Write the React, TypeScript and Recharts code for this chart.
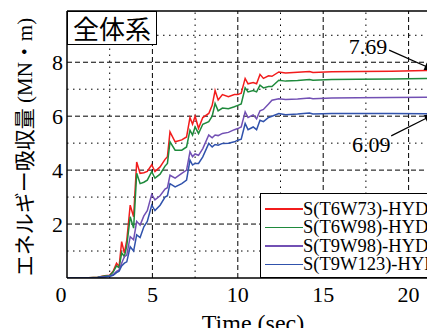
import React from 'react';
import { LineChart, Line, XAxis, YAxis, ReferenceLine, ReferenceDot, Legend } from 'recharts';

// time (sec)
const T = [
  0, 1, 1.8, 2.2, 2.5, 2.7, 2.9, 3.05, 3.2, 3.36, 3.5, 3.7, 3.9, 4.08, 4.28, 4.5, 4.7, 4.96, 5.15, 5.45,
  5.74, 5.88, 6.03, 6.33, 6.72, 7.0, 7.2, 7.35, 7.5, 7.7, 7.95, 8.3, 8.5, 8.67, 8.85, 9.1, 9.45, 9.8, 10.0, 10.2,
  10.43, 10.6, 10.9, 11.1, 11.3, 11.5, 11.8, 12.0, 12.4, 12.8, 13.5, 14.2, 14.4, 15.5, 17, 19, 21, 23, 25,
];

// energy absorbed (MN·m)
const S_T6W73 = [
  0, 0, 0.03, 0.08, 0.1, 0.25, 0.55, 0.42, 1.35, 0.92, 1.4, 2.7, 2.27, 4.3, 3.88, 3.9, 3.95, 4.2, 3.95, 4.12,
  4.4, 4.5, 5.42, 5.05, 5.12, 5.23, 5.95, 5.7, 6.0, 5.55, 5.95, 6.1, 6.4, 6.95, 6.6, 6.8, 6.72, 6.8, 6.8, 6.85,
  7.4, 7.2, 7.25, 7.2, 7.55, 7.4, 7.5, 7.48, 7.64, 7.6, 7.63, 7.66, 7.62, 7.65, 7.66, 7.67, 7.69, 7.7, 7.7,
];
const S_T6W98 = [
  0, 0, 0.03, 0.07, 0.09, 0.22, 0.45, 0.38, 0.93, 0.8, 1.2, 2.27, 1.85, 3.88, 3.5, 3.55, 3.63, 3.94, 3.7, 3.85,
  4.15, 4.25, 5.05, 4.74, 4.74, 4.86, 5.48, 5.3, 5.6, 5.36, 5.7, 5.8, 6.0, 6.47, 6.2, 6.3, 6.28, 6.35, 6.4, 6.45,
  7.05, 6.9, 6.95, 6.9, 7.15, 7.05, 7.1, 7.1, 7.33, 7.3, 7.32, 7.36, 7.33, 7.36, 7.37, 7.38, 7.4, 7.41, 7.41,
];
const S_T9W98 = [
  0, 0, 0.02, 0.05, 0.07, 0.12, 0.25, 0.3, 0.55, 0.79, 0.85, 1.53, 1.42, 2.1, 1.96, 2.3, 2.5, 3.1, 2.9, 3.05,
  3.3, 3.35, 3.81, 3.7, 3.88, 4.0, 4.68, 4.5, 4.6, 4.55, 4.8, 5.3, 5.2, 5.3, 5.28, 5.36, 5.4, 5.5, 5.54, 5.6,
  6.16, 5.95, 6.05, 5.9, 6.2, 6.25, 6.45, 6.59, 6.65, 6.62, 6.64, 6.67, 6.65, 6.67, 6.68, 6.69, 6.7, 6.7, 6.7,
];
const S_T9W123 = [
  0, 0, 0.02, 0.04, 0.06, 0.1, 0.2, 0.25, 0.45, 0.55, 0.6, 1.16, 1.0, 1.6, 1.5, 1.9, 2.1, 2.7, 2.5, 2.7,
  3.0, 3.05, 3.5, 3.38, 3.5, 3.63, 4.37, 4.19, 4.25, 4.25, 4.49, 4.99, 4.86, 4.95, 4.92, 4.99, 5.0, 5.05, 5.11, 5.15,
  5.73, 5.5, 5.6, 5.5, 5.85, 5.8, 5.95, 6.0, 6.1, 6.05, 6.08, 6.12, 6.08, 6.1, 6.1, 6.1, 6.09, 6.09, 6.09,
];

const NAMES = ['S(T6W73)-HYD', 'S(T6W98)-HYD', 'S(T9W98)-HYD', 'S(T9W123)-HYD'];
const COLORS = ['#f21c1c', '#1f8a3c', '#7250b4', '#3052ac'];
const KEYS = ['a', 'b', 'c', 'd'];

const X_TICKS = [0, 5, 10, 15, 20];
const Y_TICKS = [2, 4, 6, 8];
const X_MAJOR = [5, 10, 15, 20];
const X_MINOR = [2.5, 7.5, 12.5, 17.5, 22.5];
const Y_MAJOR = [2, 4, 6, 8];
const Y_MINOR = [1, 3, 5, 7, 9];

const rows = T.map((t, i) => ({
  t,
  a: S_T6W73[i],
  b: S_T6W98[i],
  c: S_T9W98[i],
  d: S_T9W123[i],
}));

const serif = '"Liberation Serif", "Times New Roman", "DejaVu Serif", serif';
const jpSerif = '"Liberation Serif", "Times New Roman", "Noto Sans CJK JP", serif';

function XTick(p: any) {
  const v = p.payload.value;
  return (
    <text x={p.x + (v === 0 ? -6 : 0)} y={p.y} dy="0.72em" textAnchor="middle" fontSize={22} fontFamily={serif} fill="#000">
      {v}
    </text>
  );
}

function YTick(p: any) {
  return (
    <text x={p.x} y={p.y} dy="0.35em" textAnchor="end" fontSize={22} fontFamily={serif} fill="#000">
      {p.payload.value}
    </text>
  );
}

function arrowHead(angle: number) {
  return (p: any) => (
    <g transform={`rotate(${angle}, ${p.cx}, ${p.cy})`}>
      <polygon points={`${p.cx},${p.cy} ${p.cx - 11},${p.cy - 4} ${p.cx - 11},${p.cy + 4}`} fill="#000" />
    </g>
  );
}

function textAt(value: string) {
  return (p: any) => (
    <text x={p.cx} y={p.cy} dy="0.35em" textAnchor="middle" fontSize={22} fontFamily={serif} fill="#000">
      {value}
    </text>
  );
}

function LegendBox() {
  return (
    <div
      style={{
        width: 190,
        height: 85,
        boxSizing: 'border-box',
        border: '1.5px solid #000',
        background: '#fff',
        paddingTop: 6,
        paddingLeft: 4,
        fontSize: 18.5,
        lineHeight: '18.4px',
        whiteSpace: 'nowrap',
        color: '#000',
        fontFamily: serif,
      }}
    >
      {NAMES.map((n, i) => (
        <div key={n} style={{ display: 'flex', alignItems: 'center', height: 18.4 }}>
          <span style={{ display: 'inline-block', width: 38, height: 1.6, background: COLORS[i] }} />
          <span>{n}</span>
        </div>
      ))}
    </div>
  );
}

export default function App() {
  return (
    <div
      style={{
        margin: -8,
        width: 435,
        height: 336,
        overflow: 'hidden',
        position: 'relative',
        background: '#fff',
        fontFamily: serif,
      }}
    >
      <LineChart width={504} height={336} data={rows} margin={{ top: 11, right: 10, left: 7, bottom: 0 }}>
        {X_MINOR.map((v) => (
          <ReferenceLine key={`xm${v}`} x={v} stroke="#000" strokeWidth={1} strokeDasharray="1.5 4.5" />
        ))}
        {Y_MINOR.map((v) => (
          <ReferenceLine key={`ym${v}`} y={v} stroke="#000" strokeWidth={1} strokeDasharray="1.5 4.5" />
        ))}
        {X_MAJOR.map((v) => (
          <ReferenceLine key={`xM${v}`} x={v} stroke="#000" strokeWidth={1} strokeDasharray="5 3" />
        ))}
        {Y_MAJOR.map((v) => (
          <ReferenceLine key={`yM${v}`} y={v} stroke="#000" strokeWidth={1} strokeDasharray="5 3" />
        ))}
        <ReferenceLine y={9.9} stroke="#000" strokeWidth={1.5} />
        <ReferenceLine x={25} stroke="#000" strokeWidth={1.5} />
        <XAxis
          type="number"
          dataKey="t"
          domain={[0, 25]}
          ticks={X_TICKS}
          allowDataOverflow
          height={58}
          tickLine={false}
          tickSize={6}
          tickMargin={2}
          axisLine={{ stroke: '#000', strokeWidth: 1.5 }}
          tick={<XTick />}
        />
        <YAxis
          type="number"
          domain={[0, 9.9]}
          ticks={Y_TICKS}
          allowDataOverflow
          width={60}
          tickLine={false}
          tickSize={2}
          tickMargin={2}
          axisLine={{ stroke: '#000', strokeWidth: 1.5 }}
          tick={<YTick />}
        />
        {KEYS.map((k, i) => (
          <Line
            key={k}
            type="linear"
            dataKey={k}
            name={NAMES[i]}
            stroke={COLORS[i]}
            strokeWidth={1.5}
            dot={false}
            isAnimationActive={false}
          />
        ))}
        <ReferenceLine segment={[{ x: 18.86, y: 8.45 }, { x: 21.4, y: 7.74 }]} stroke="#000" strokeWidth={1.2} ifOverflow="visible" />
        <ReferenceLine segment={[{ x: 18.98, y: 5.27 }, { x: 21.4, y: 6.04 }]} stroke="#000" strokeWidth={1.2} ifOverflow="visible" />
        <ReferenceDot x={21.56} y={7.69} shape={arrowHead(23.5)} ifOverflow="visible" />
        <ReferenceDot x={21.56} y={6.09} shape={arrowHead(-27.6)} ifOverflow="visible" />
        <ReferenceDot x={17.63} y={8.58} shape={textAt('7.69')} ifOverflow="visible" />
        <ReferenceDot x={17.81} y={4.95} shape={textAt('6.09')} ifOverflow="visible" />
        <Legend
          layout="vertical"
          align="center"
          verticalAlign="middle"
          content={<LegendBox />}
          wrapperStyle={{ position: 'absolute', left: 260, top: 193, width: 190 }}
        />
      </LineChart>
      <div
        style={{
          position: 'absolute',
          left: 67,
          top: 11,
          width: 90,
          height: 34,
          boxSizing: 'border-box',
          border: '1.5px solid #000',
          background: '#fff',
          fontSize: 26,
          lineHeight: '31px',
          textAlign: 'center',
          fontFamily: '"Noto Sans CJK JP", sans-serif',
        }}
      >
        全体系
      </div>
      <div
        style={{
          position: 'absolute',
          left: 25,
          top: 147,
          transform: 'translate(-50%, -50%) rotate(-90deg)',
          whiteSpace: 'nowrap',
          fontSize: 21,
          lineHeight: '24px',
          fontFamily: jpSerif,
        }}
      >
        エネルギー吸収量 (MN・m)
      </div>
      <div
        style={{
          position: 'absolute',
          left: 253,
          top: 323,
          transform: 'translate(-50%, -50%)',
          whiteSpace: 'nowrap',
          fontSize: 24,
          lineHeight: '26px',
        }}
      >
        Time (sec)
      </div>
    </div>
  );
}
